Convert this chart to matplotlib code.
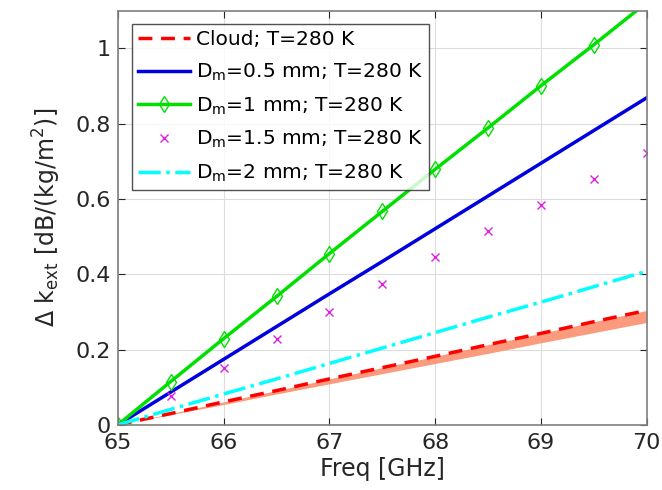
import matplotlib
matplotlib.use("Agg")
import matplotlib.pyplot as plt

plt.rcParams["font.family"] = "DejaVu Sans"
plt.rcParams["mathtext.default"] = "regular"

# data
freq = [65, 65.5, 66, 66.5, 67, 67.5, 68, 68.5, 69, 69.5, 70]
cloud = [0, 0.030, 0.061, 0.091, 0.122, 0.152, 0.182, 0.213, 0.243, 0.274, 0.304]
cloud_low = [0, 0.027, 0.054, 0.082, 0.109, 0.136, 0.163, 0.190, 0.218, 0.245, 0.272]
dm05 = [0, 0.087, 0.174, 0.261, 0.348, 0.434, 0.521, 0.608, 0.695, 0.782, 0.869]
dm1 = [0, 0.115, 0.229, 0.341, 0.455, 0.567, 0.679, 0.789, 0.901, 1.010, 1.122]
dm15 = [0, 0.077, 0.152, 0.227, 0.301, 0.373, 0.445, 0.515, 0.584, 0.653, 0.723]
dm2 = [0, 0.041, 0.082, 0.122, 0.163, 0.204, 0.245, 0.286, 0.326, 0.367, 0.408]

fig = plt.figure(figsize=(6.62, 4.9), dpi=100)
ax = fig.add_axes([0.178, 0.133, 0.799, 0.845])

ax.fill_between(freq, cloud_low, cloud, color="#fb9a7c", lw=0)
ax.plot(freq, cloud, "--", color="red", lw=2.5, dashes=(4, 2.5), label="Cloud; T=280 K")
ax.plot(freq, dm05, "-", color="#0000e0", lw=2.5, label="D$_m$=0.5 mm; T=280 K")
ax.plot(freq, dm1, "-", color="#00e000", lw=2.5, marker="d", ms=8, mfc="none",
        mec="#00e000", mew=1.0, label="D$_m$=1 mm; T=280 K")
ax.plot(freq, dm15, "x", color="#e020e0", ms=6, mew=1.0, ls="none",
        label="D$_m$=1.5 mm; T=280 K")
ax.plot(freq, dm2, "-.", color="cyan", lw=2.5, label="D$_m$=2 mm; T=280 K")

ax.set_xlim(65, 70)
ax.set_ylim(0, 1.1)
ax.set_xticks([65, 66, 67, 68, 69, 70])
ax.set_yticks([0, 0.2, 0.4, 0.6, 0.8, 1.0])
ax.set_yticklabels(["0", "0.2", "0.4", "0.6", "0.8", "1"])
ax.grid(True, color="#dddddd", lw=0.8)
ax.set_axisbelow(True)
ax.tick_params(direction="in", top=True, right=True, labelsize=16,
               colors="#262626", length=5)
ax.tick_params(axis="x", pad=6)
ax.tick_params(axis="y", pad=5)
for s in ax.spines.values():
    s.set_color("#7f7f7f")
    s.set_linewidth(1.2)

ax.set_xlabel("Freq [GHz]", fontsize=17, color="#262626", labelpad=3)
ax.set_ylabel("$\\Delta$ k$_{ext}$ [dB/(kg/m$^2$)]", fontsize=17, color="#262626",
              labelpad=9)

leg = ax.legend(loc="upper left", bbox_to_anchor=(0.026, 0.968), fontsize=14.5,
                frameon=True, fancybox=False, edgecolor="#262626",
                handlelength=2.6, handletextpad=0.3, borderpad=0.3,
                labelspacing=0.62, borderaxespad=0)
leg.get_frame().set_linewidth(1.0)

fig.savefig("out.png", dpi=100)
